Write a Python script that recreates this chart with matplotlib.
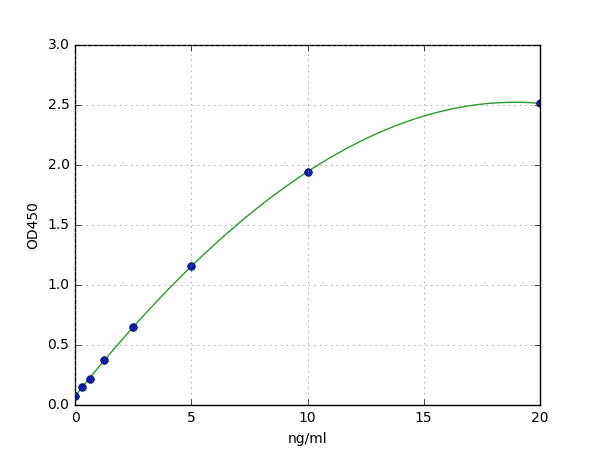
import numpy as np
import matplotlib
matplotlib.use("Agg")
import matplotlib.pyplot as plt

conc = [0, 0.3125, 0.625, 1.25, 2.5, 5, 10, 20]
od = [0.075, 0.15, 0.217, 0.375, 0.647, 1.156, 1.944, 2.514]

plt.style.use('classic')
plt.rcParams['font.size'] = 10
fig = plt.figure(figsize=(6, 4.5), dpi=100)
ax = fig.add_subplot(111)

coef = np.polyfit(conc, od, 3)
xs = np.linspace(0, 20, 200)
ax.plot(xs, np.polyval(coef, xs), '-', color='#2a9a2a')
ax.plot(conc, od, 'o', color='#0a1fa8', markeredgecolor='#000060', markersize=5.5)

ax.set_xlim(0, 20)
ax.set_ylim(0, 3.0)
ax.set_xlabel('ng/ml')
ax.set_ylabel('OD450')
ax.grid(True, color='#808080')

fig.savefig('out.png', dpi=100)
